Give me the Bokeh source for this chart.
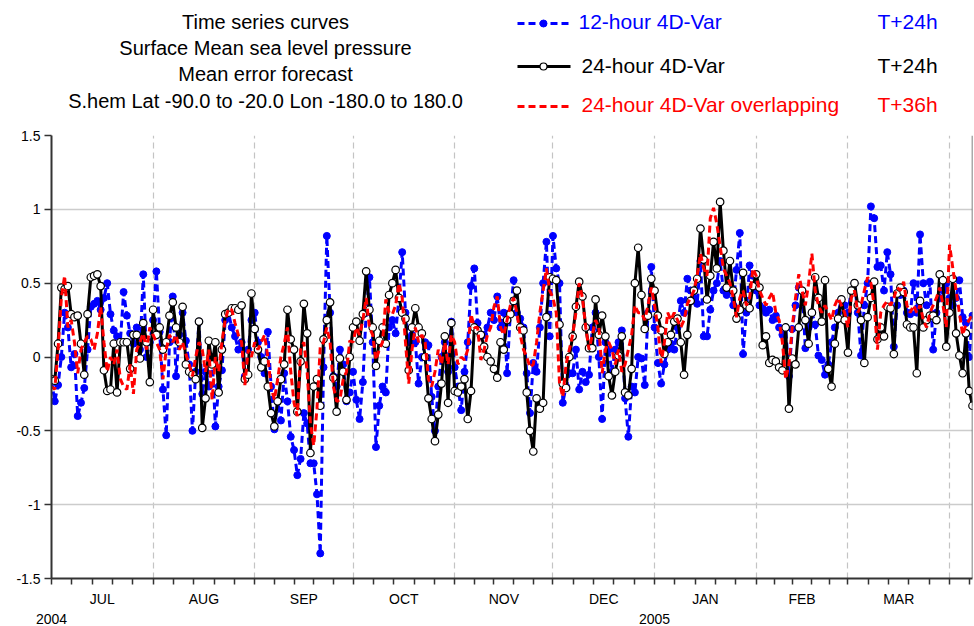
from bokeh.plotting import figure
from bokeh.models import Range1d, FixedTicker, Span, LinearAxis
from bokeh.layouts import column
from bokeh.embed import file_html
from bokeh.resources import INLINE
from bokeh.core.properties import value

FONT = "Liberation Sans"

# ---------------- data (one value per day, starting 2004-07-01) ----------------
start_date = "2004-07-01"
months = ["JUL", "AUG", "SEP", "OCT", "NOV", "DEC", "JAN", "FEB", "MAR", "APR"]
month_days = [31, 31, 30, 31, 30, 31, 31, 28, 31, 30]
years = ["2004", "2005"]
year_day = [0, 184]
y_ticks = [-1.5, -1.0, -0.5, 0.0, 0.5, 1.0, 1.5]
y_tick_labels = ["-1.5", "-1", "-0.5", "0", "0.5", "1", "1.5"]

title_lines = ["Time series curves", "Surface Mean sea level pressure",
               "Mean error forecast", "S.hem Lat -90.0 to -20.0 Lon -180.0 to 180.0"]
legend_names = ["12-hour 4D-Var", "24-hour 4D-Var", "24-hour 4D-Var overlapping"]
legend_steps = ["T+24h", "T+24h", "T+36h"]

blue = [
    -0.16, -0.30, -0.19, 0.00, 0.30, 0.20, -0.07, 0.02, -0.40, -0.31,
    -0.21, 0.05, 0.34, 0.36, 0.38, 0.32, 0.40, 0.50, 0.29, 0.18,
    0.14, 0.10, 0.44, 0.28, 0.16, 0.09, 0.20, 0.05, 0.56, 0.00,
    0.10, 0.25, 0.58, 0.17, -0.22, -0.53, 0.10, 0.41, -0.13, 0.15,
    0.30, 0.11, -0.05, -0.50, -0.10, 0.24, -0.25, -0.10, -0.20, 0.00,
    -0.47, -0.20, -0.09, 0.25, 0.30, 0.20, 0.14, 0.05, 0.10, -0.13,
    0.05, 0.25, 0.30, 0.10, 0.00, -0.11, 0.17, -0.20, -0.49, -0.30,
    -0.43, -0.11, -0.30, -0.54, -0.63, -0.80, -0.69, -0.38, -0.45, -0.72,
    -0.72, -0.93, -1.33, -0.07, 0.82, 0.30, -0.13, -0.20, 0.05, -0.05,
    -0.30, -0.24, -0.10, -0.29, -0.42, -0.17, 0.30, 0.54, 0.10, -0.61,
    -0.33, -0.20, -0.24, 0.20, 0.25, 0.16, 0.40, 0.71, 0.30, 0.10,
    0.15, 0.10, -0.18, 0.00, 0.10, 0.08, -0.27, -0.50, -0.20, 0.00,
    0.10, -0.10, 0.24, -0.07, -0.20, -0.36, -0.10, 0.10, 0.48, 0.60,
    0.23, 0.14, 0.15, 0.20, 0.30, 0.25, 0.41, 0.20, 0.30, -0.11,
    0.30, 0.52, 0.30, 0.26, 0.20, -0.11, -0.38, -0.04, -0.10, 0.20,
    0.50, 0.78, 0.14, 0.82, 0.60, 0.50, -0.31, -0.20, -0.11, -0.11,
    0.05, -0.22, -0.10, -0.17, -0.12, 0.20, 0.30, 0.00, -0.42, 0.10,
    0.05, -0.10, 0.05, 0.10, 0.18, -0.28, -0.54, -0.20, -0.24, 0.00,
    -0.01, -0.19, 0.30, 0.61, 0.20, -0.04, -0.18, -0.05, 0.05, 0.09,
    0.05, 0.20, 0.38, 0.30, 0.53, 0.45, 0.40, 0.36, 0.65, 0.14,
    0.14, 0.32, 0.45, 0.50, 0.65, 0.45, 0.42, 0.45, 0.35, 0.59,
    0.84, 0.02, 0.30, 0.62, 0.55, 0.45, 0.35, 0.33, 0.30, 0.32,
    0.25, 0.28, 0.20, 0.15, 0.20, -0.13, 0.19, 0.35, 0.47, 0.45,
    0.06, 0.20, 0.30, 0.22, 0.01, -0.02, -0.12, -0.05, 0.10, 0.20,
    0.30, 0.39, 0.35, 0.30, 0.45, 0.50, 0.30, 0.01, 0.35, 0.50,
    1.02, 0.94, 0.61, 0.62, 0.45, 0.71, 0.56, 0.07, 0.35, 0.42,
    0.45, 0.30, 0.29, 0.50, 0.30, 0.83, 0.50, 0.35, 0.51, 0.05,
    0.30, 0.40, 0.45, 0.50, 0.40, 0.35, 0.40, 0.52, 0.27, 0.23,
    0.00, 0.28,
]

black = [
    -0.15, -0.16, 0.09, 0.47, 0.46, 0.48, 0.29, 0.27, 0.28, 0.09,
    -0.12, 0.29, 0.54, 0.55, 0.56, 0.48, -0.09, -0.23, -0.22, 0.09,
    -0.24, 0.10, 0.10, 0.10, -0.08, 0.15, 0.15, -0.01, 0.23, 0.10,
    -0.17, 0.32, 0.15, 0.20, 0.05, 0.10, 0.28, 0.37, 0.20, 0.10,
    0.34, -0.05, -0.10, -0.12, -0.15, 0.24, -0.48, -0.28, 0.11, -0.05,
    0.10, -0.24, 0.05, 0.29, 0.30, 0.33, 0.33, 0.32, 0.35, -0.15,
    -0.12, 0.43, 0.19, 0.05, -0.07, -0.03, -0.20, -0.38, -0.47, -0.30,
    -0.15, -0.05, 0.32, 0.12, 0.05, -0.37, -0.03, 0.36, 0.16, -0.65,
    -0.20, -0.15, -0.33, 0.12, 0.25, 0.37, -0.14, -0.37, -0.01, -0.10,
    -0.29, 0.00, 0.20, 0.24, 0.11, 0.29, 0.58, 0.32, 0.20, -0.06,
    0.11, 0.20, 0.09, 0.42, 0.50, 0.59, 0.40, 0.30, 0.26, -0.09,
    0.20, 0.33, 0.20, 0.16, 0.00, -0.28, -0.42, -0.57, -0.39, -0.18,
    0.14, -0.31, 0.23, -0.23, -0.24, -0.20, -0.15, -0.42, -0.23, 0.20,
    0.18, 0.15, 0.07, 0.00, -0.03, -0.08, -0.14, 0.10, 0.05, 0.25,
    0.29, 0.38, 0.45, 0.20, 0.18, -0.24, -0.50, -0.64, -0.28, -0.35,
    -0.31, 0.27, 0.54, 0.53, 0.52, 0.22, -0.18, -0.21, 0.00, 0.14,
    0.34, 0.51, 0.41, 0.20, 0.06, 0.06, 0.39, 0.15, 0.28, 0.14,
    -0.13, -0.26, -0.10, 0.01, 0.14, -0.24, -0.26, -0.08, 0.50, 0.74,
    0.42, 0.19, 0.28, 0.53, 0.45, 0.28, 0.18, 0.02, 0.10, 0.15,
    0.24, 0.26, 0.10, -0.12, 0.15, 0.38, 0.45, 0.53, 0.87, 0.66,
    0.39, 0.55, 0.78, 0.60, 1.05, 0.72, 0.47, 0.65, 0.45, 0.26,
    0.32, 0.57, 0.35, 0.33, 0.48, 0.56, 0.47, 0.08, 0.14, -0.04,
    -0.02, -0.03, -0.07, -0.09, 0.20, -0.35, -0.01, -0.05, 0.20, 0.45,
    0.25, 0.09, 0.30, 0.54, 0.40, 0.24, 0.52, -0.08, -0.20, 0.09,
    0.26, 0.39, 0.25, 0.03, 0.45, 0.50, 0.35, 0.25, -0.04, 0.27,
    0.40, 0.51, 0.12, 0.20, 0.14, 0.34, 0.33, 0.02, 0.43, 0.47,
    0.44, 0.22, 0.20, 0.20, -0.11, 0.38, 0.20, 0.25, 0.28, 0.28,
    0.25, 0.56, 0.52, 0.07, 0.30, 0.53, 0.16, 0.01, -0.11, 0.16,
    -0.23, -0.33,
]

red = [
    -0.20, -0.22, 0.05, 0.40, 0.55, 0.20, 0.25, 0.10, -0.11, 0.05,
    0.10, 0.14, 0.12, 0.05, 0.16, 0.34, 0.10, -0.10, 0.00, -0.05,
    0.05, -0.15, -0.20, -0.22, -0.05, -0.25, 0.05, 0.10, 0.16, 0.05,
    0.20, 0.15, 0.10, 0.05, -0.15, 0.05, 0.15, 0.10, 0.15, 0.05,
    0.10, 0.02, -0.05, -0.13, 0.00, 0.10, 0.05, -0.10, 0.05, -0.29,
    0.00, -0.10, 0.10, 0.25, 0.33, 0.32, 0.23, 0.15, 0.10, -0.19,
    0.05, 0.00, 0.10, 0.05, 0.10, 0.15, 0.00, -0.20, -0.29, -0.15,
    0.00, 0.09, 0.20, -0.10, -0.31, -0.40, 0.05, 0.10, -0.10, -0.45,
    -0.60, -0.35, 0.07, 0.10, 0.20, 0.10, -0.20, -0.30, -0.29, -0.15,
    -0.10, 0.11, 0.10, 0.20, 0.15, 0.25, 0.40, 0.20, 0.15, -0.02,
    0.05, 0.10, 0.39, 0.30, 0.29, 0.35, 0.50, 0.40, 0.10, -0.18,
    0.05, 0.20, 0.10, 0.15, 0.10, -0.15, -0.20, -0.10, 0.05, -0.05,
    0.10, -0.05, 0.15, 0.10, -0.05, 0.00, -0.02, 0.05, 0.29, 0.20,
    0.20, -0.02, 0.05, 0.15, 0.20, 0.34, 0.41, 0.20, 0.15, 0.25,
    0.35, 0.40, 0.30, 0.15, 0.05, 0.00, -0.07, -0.05, 0.10, 0.30,
    0.45, 0.60, 0.45, 0.40, 0.30, -0.18, -0.27, -0.05, 0.05, 0.15,
    0.30, 0.50, 0.40, 0.20, 0.05, 0.15, 0.25, 0.20, -0.11, 0.05,
    0.10, 0.05, -0.05, 0.05, -0.10, -0.05, 0.05, 0.15, 0.35, 0.30,
    0.30, 0.25, 0.35, 0.47, 0.35, 0.20, -0.04, 0.10, 0.30, 0.25,
    0.30, 0.25, 0.20, 0.25, 0.36, 0.40, 0.45, 0.55, 0.70, 0.60,
    0.55, 0.94, 1.01, 0.90, 0.75, 0.60, 0.55, 0.50, 0.40, 0.27,
    0.40, 0.45, 0.35, 0.40, 0.60, 0.55, 0.45, 0.40, 0.35, 0.40,
    0.44, 0.30, 0.25, 0.10, -0.15, -0.05, 0.20, 0.40, 0.56, 0.45,
    0.35, 0.50, 0.70, 0.45, 0.35, 0.30, 0.35, 0.30, 0.25, 0.35,
    0.40, 0.35, 0.30, 0.20, 0.40, 0.45, 0.30, 0.35, 0.45, 0.54,
    0.50, 0.35, 0.05, 0.30, 0.35, 0.38, 0.35, 0.40, 0.47, 0.45,
    0.51, 0.35, 0.30, 0.35, 0.30, 0.35, 0.25, 0.20, 0.30, 0.35,
    0.40, 0.47, 0.35, 0.20, 0.76, 0.60, 0.45, 0.30, 0.15, 0.22,
    0.25, 0.29,
]

# ---------------- layout constants ----------------
W = 974
HEAD_H = 125
MAIN_H = 626 - HEAD_H
LEFT = 51
RIGHT = 972
BLUE = "#0000ff"
RED = "#ff0000"
BLACK = "#000000"

# ---------------- header figure (title + legend), coordinates = page pixels ----------------
h = figure(width=W, height=HEAD_H, x_range=Range1d(LEFT, RIGHT), y_range=Range1d(HEAD_H, 0),
           toolbar_location=None, output_backend="svg", min_border=0,
           min_border_left=LEFT, min_border_right=W - RIGHT)
h.axis.visible = False
h.grid.visible = False
h.outline_line_color = None

h.text(x=[265] * 4, y=[21, 47, 73, 100], text=title_lines, text_align="center",
       text_baseline="middle", text_font=value(FONT), text_font_size="20px",
       text_color=BLACK)

leg_y = [23, 66, 106]
h.line([517, 570], [leg_y[0]] * 2, line_color=BLUE, line_width=3, line_dash="7 4")
h.scatter([543], [leg_y[0]], size=7, fill_color=BLUE, line_color=BLUE)
h.line([517, 570], [leg_y[1]] * 2, line_color=BLACK, line_width=3)
h.scatter([543], [leg_y[1]], size=7, fill_color="white", line_color=BLACK, line_width=1.2)
h.line([517, 570], [leg_y[2]] * 2, line_color=RED, line_width=3, line_dash="7 4")

h.text(x=[578, 581, 581], y=[21, 65, 104], text=legend_names,
       text_color=[BLUE, BLACK, RED], text_align="left", text_baseline="middle",
       text_font=value(FONT), text_font_size="21px")
h.text(x=[877, 877, 877], y=[21, 65, 104], text=legend_steps,
       text_color=[BLUE, BLACK, RED], text_align="left", text_baseline="middle",
       text_font=value(FONT), text_font_size="21px")

# ---------------- main figure ----------------
n = len(black)
x = list(range(n))
p = figure(width=W, height=MAIN_H, x_range=Range1d(0, n - 1), y_range=Range1d(-1.5, 1.5),
           toolbar_location=None, output_backend="svg",
           min_border_left=LEFT, min_border_right=W - RIGHT, min_border_top=10,
           min_border_bottom=45)
p.outline_line_color = None
p.background_fill_color = "white"

# month positions
starts = []
s = 0
for md in month_days:
    starts.append(s)
    s += md
mids = [st + md / 2.0 for st, md in zip(starts, month_days)]
minor = []
for st, md in zip(starts, month_days):
    for k in range(5):
        v = st + k * md / 5.0
        if v <= n - 1:
            minor.append(v)

label_idx = [i for i in range(len(months)) if mids[i] < n - 1]
p.xaxis.ticker = FixedTicker(ticks=[mids[i] for i in label_idx], minor_ticks=minor)
p.xaxis.major_label_overrides = {mids[i]: months[i] for i in label_idx}
p.xaxis.major_tick_line_color = None
p.xaxis.major_tick_out = 0
p.xaxis.major_tick_in = 0
p.xaxis.minor_tick_out = 6
p.xaxis.minor_tick_in = 0
p.xaxis.minor_tick_line_color = "#333333"
p.xaxis.minor_tick_line_width = 1.5
p.xaxis.axis_line_color = "#333333"
p.xaxis.axis_line_width = 2
p.xaxis.major_label_standoff = 6
p.xaxis.major_label_text_font = FONT
p.xaxis.major_label_text_font_size = "14px"
p.xaxis.major_label_text_color = BLACK

# second row of the time axis: years
year_axis = LinearAxis(ticker=FixedTicker(ticks=year_day, minor_ticks=[]),
                       major_label_overrides={d: y for d, y in zip(year_day, years)})
year_axis.axis_line_color = None
year_axis.major_tick_line_color = None
year_axis.minor_tick_line_color = None
year_axis.major_tick_out = 0
year_axis.major_tick_in = 0
year_axis.major_label_standoff = 4
year_axis.major_label_text_font = FONT
year_axis.major_label_text_font_size = "14px"
year_axis.major_label_text_color = BLACK
p.add_layout(year_axis, "below")

p.yaxis.ticker = FixedTicker(ticks=y_ticks, minor_ticks=[])
p.yaxis.major_label_overrides = {t: l for t, l in zip(y_ticks, y_tick_labels)}
p.yaxis.major_tick_out = 7
p.yaxis.major_tick_in = 0
p.yaxis.major_tick_line_color = "#333333"
p.yaxis.major_tick_line_width = 1.5
p.yaxis.axis_line_color = "#333333"
p.yaxis.axis_line_width = 2
p.yaxis.major_label_standoff = 4
p.yaxis.major_label_text_font = FONT
p.yaxis.major_label_text_font_size = "14px"
p.yaxis.major_label_text_color = BLACK

p.xgrid.ticker = FixedTicker(ticks=[st for st in starts[1:] if st <= n - 1])
p.xgrid.grid_line_color = "#c4c4c4"
p.xgrid.grid_line_dash = "6 4"
p.xgrid.grid_line_width = 1.2
p.ygrid.ticker = FixedTicker(ticks=[t for t in y_ticks if t > -1.5])
p.ygrid.grid_line_color = "#cccccc"
p.ygrid.grid_line_width = 1.5

p.add_layout(Span(location=n - 1, dimension="height", line_color="#555555", line_width=1.5))

# series: blue (bottom), black, red (top)
p.line(x, blue, line_color=BLUE, line_width=3, line_dash="7 4")
p.scatter(x, blue, size=7, fill_color=BLUE, line_color=BLUE)
p.line(x, black, line_color=BLACK, line_width=3)
p.scatter(x, black, size=7.5, fill_color="white", line_color=BLACK, line_width=1.2)
p.line(x, red, line_color=RED, line_width=3, line_dash="7 4")

layout = column(h, p, spacing=0)
open("out.html", "w").write(file_html(layout, INLINE))
